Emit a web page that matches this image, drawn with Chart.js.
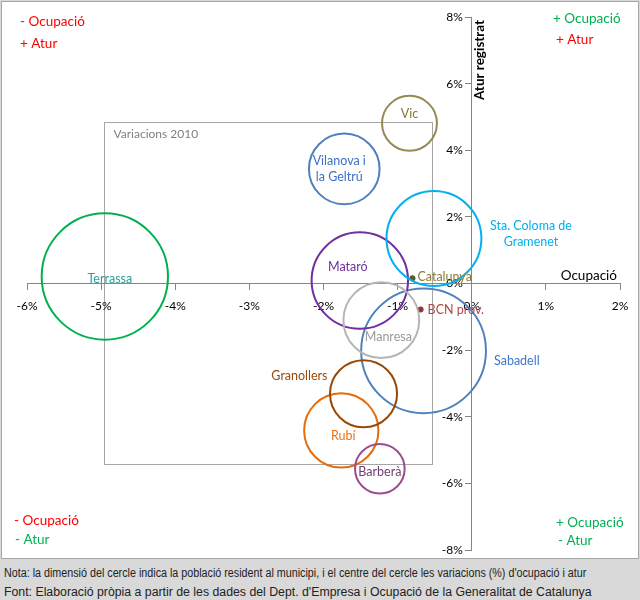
<!DOCTYPE html>
<html>
<head>
<meta charset="utf-8">
<script src="https://cdn.jsdelivr.net/npm/chart.js@4.4.1/dist/chart.umd.min.js"></script>
<style>
  body { margin: 0; background: #d9d9d9; width: 640px; height: 600px; overflow: hidden; }
  #box { position: absolute; left: 1px; top: 1px; width: 636px; height: 556px; background: #fff; border: 1px solid #a6a6a6; }
  #wrap { position: absolute; left: 0; top: 0; width: 640px; height: 558px; }
  .foot { position: absolute; left: 4px; color: #222; white-space: nowrap; transform-origin: 0 0; }
  #nota { top: 566px; font: 12px "Liberation Sans", Arial, sans-serif; transform: scaleX(0.895); }
  #font { top: 585px; font: 12.3px "Liberation Sans", Arial, sans-serif; }
</style>
</head>
<body>
<div id="box"></div>
<div id="wrap"><canvas id="chart"></canvas></div>
<div class="foot" id="nota">Nota: la dimensió del cercle indica la població resident al municipi, i el centre del cercle les variacions (%) d'ocupació i atur</div>
<div class="foot" id="font">Font: Elaboració pròpia a partir de les dades del Dept. d'Empresa i Ocupació de la Generalitat de Catalunya</div>
<script>
// municipis (variació % ocupació, variació % atur, població en milers)
const cities = ['Terrassa', 'Sabadell', 'Mataró', 'Sta. Coloma de Gramenet', 'Rubí', 'Manresa', 'Vilanova i la Geltrú', 'Granollers', 'Vic', 'Barberà'];
const ocupacio = [-4.95, -0.65, -1.51, -0.51, -1.76, -1.22, -1.72, -1.46, -0.84, -1.24];
const atur = [0.21, -2.02, 0.09, 1.35, -4.41, -1.10, 3.44, -3.31, 4.81, -5.56];
const poblacio = [212.7, 207.7, 123.9, 120.0, 73.6, 76.6, 66.6, 60.0, 40.2, 32.8];
const cityColors = ['#00b050', '#4f81bd', '#7030a0', '#00b0f0', '#e46c0a', '#b5b5b5', '#4f81bd', '#984807', '#948a54', '#9e4b8e'];
const textColors = ['#2aa198', '#3d78cc', '#7030a0', '#00b0f0', '#f07016', '#9a9a9a', '#3d6fc6', '#984807', '#857530', '#733b73'];

// referències
const refNames = ['Catalunya', 'BCN prov.'];
const refOcupacio = [-0.80, -0.69];
const refAtur = [0.16, -0.78];
const refColors = ['#4f6228', '#953735'];
const refText = ['#8a7d35', '#b0453f'];

// requadre "Variacions 2010"
const boxX = [-4.96, -0.53];
const boxY = [-5.41, 4.84];

const xTicks = [-6, -5, -4, -3, -2, -1, 0, 1, 2];
const yTicks = [-8, -6, -4, -2, 0, 2, 4, 6, 8];

const FONT = 'Lato, "Open Sans", sans-serif';

// posició de les etiquetes respecte al centre del cercle
const labelPlace = {
  'Terrassa': { dx: 5, dy: 2, align: 'center' },
  'Sabadell': { dx: 71, dy: 10, align: 'left' },
  'Mataró': { dx: -12, dy: -14, align: 'center' },
  'Sta. Coloma de Gramenet': { dx: 97, dy: -13, align: 'center', lines: ['Sta. Coloma de', 'Gramenet'] },
  'Rubí': { dx: 2, dy: 6, align: 'center' },
  'Manresa': { dx: 7, dy: 17, align: 'center' },
  'Vilanova i la Geltrú': { dx: -5, dy: -8, align: 'center', lines: ['Vilanova i', 'la Geltrú'] },
  'Granollers': { dx: -36, dy: -18, align: 'right' },
  'Vic': { dx: 0, dy: -9, align: 'center' },
  'Barberà': { dx: 0, dy: 3, align: 'center' }
};

const sizeK = 4.33;

const extras = {
  id: 'extras',
  beforeDraw(chart) {
    const { ctx, scales: { x, y } } = chart;
    ctx.save();
    ctx.strokeStyle = '#a6a6a6';
    ctx.lineWidth = 1;
    const l = Math.round(x.getPixelForValue(boxX[0])) + 0.5;
    const r = Math.round(x.getPixelForValue(boxX[1])) + 0.5;
    const t = Math.round(y.getPixelForValue(boxY[1])) + 0.5;
    const b = Math.round(y.getPixelForValue(boxY[0])) + 0.5;
    ctx.strokeRect(l, t, r - l, b - t);
    ctx.fillStyle = '#7f7f7f';
    ctx.font = '12px ' + FONT;
    ctx.textBaseline = 'middle';
    ctx.fillText('Variacions 2010', l + 9, t + 12);

    // quadrants
    ctx.font = '13.5px ' + FONT;
    const q = [
      ['- Ocupació', 20, 22, '#ff0000'], ['+ Atur', 20, 44, '#ff0000'],
      ['+ Ocupació', 553, 19, '#00b050'], ['+ Atur', 556, 40, '#ff0000'],
      ['- Ocupació', 14, 521, '#ff0000'], ['- Atur', 15, 540, '#00b050'],
      ['+ Ocupació', 556, 523, '#00b050'], ['- Atur', 558, 541, '#00b050']
    ];
    q.forEach(([txt, px, py, c]) => { ctx.fillStyle = c; ctx.fillText(txt, px, py); });

    // etiquetes de l'eix vertical
    ctx.fillStyle = '#000';
    ctx.font = '12px ' + FONT;
    ctx.textAlign = 'right';
    const x0 = x.getPixelForValue(0);
    yTicks.forEach(v => ctx.fillText(v + '%', x0 - 9, y.getPixelForValue(v)));

    // títols d'eixos
    ctx.font = 'bold 13.5px ' + FONT;
    ctx.translate(x0 + 8, y.getPixelForValue(8) + 43);
    ctx.rotate(-Math.PI / 2);
    ctx.textAlign = 'center';
    ctx.fillText('Atur registrat', 0, 0);
    ctx.restore();
    ctx.save();
    ctx.font = '13.5px ' + FONT;
    ctx.fillStyle = '#000';
    ctx.textAlign = 'right';
    ctx.textBaseline = 'middle';
    ctx.fillText('Ocupació', x.getPixelForValue(2) - 3, y.getPixelForValue(0) - 8);
    ctx.restore();
  },
  afterDatasetsDraw(chart) {
    const { ctx } = chart;
    ctx.save();
    ctx.font = '12.5px ' + FONT;
    ctx.textBaseline = 'middle';
    const pts = chart.getDatasetMeta(0).data;
    cities.forEach((name, i) => {
      const p = labelPlace[name];
      const el = pts[i];
      ctx.fillStyle = textColors[i];
      ctx.textAlign = p.align;
      let bx = el.x + p.dx;
      if (p.align === 'left') bx = el.x + el.options.radius + 8;
      const lines = p.lines || [name];
      lines.forEach((ln, k) => ctx.fillText(ln, bx, el.y + p.dy + k * 16));
    });
    const rp = chart.getDatasetMeta(1).data;
    refNames.forEach((name, i) => {
      ctx.fillStyle = refText[i];
      ctx.textAlign = 'left';
      ctx.fillText(name, rp[i].x + 5 + i * 2, rp[i].y - 1 + i);
    });
    ctx.restore();
  }
};

new Chart(document.getElementById('chart'), {
  type: 'bubble',
  data: {
    datasets: [
      {
        data: cities.map((c, i) => ({ x: ocupacio[i], y: atur[i], r: sizeK * Math.sqrt(poblacio[i]) })),
        borderColor: cityColors,
        backgroundColor: 'rgba(0,0,0,0)',
        borderWidth: 2
      },
      {
        data: refNames.map((c, i) => ({ x: refOcupacio[i], y: refAtur[i], r: 3 })),
        backgroundColor: refColors,
        borderColor: refColors,
        borderWidth: 0
      }
    ]
  },
  options: {
    responsive: true,
    maintainAspectRatio: false,
    animation: false,
    events: [],
    layout: { autoPadding: false, padding: { left: 27, right: 20, top: 17, bottom: 8 } },
    plugins: { legend: { display: false }, tooltip: { enabled: false } },
    scales: {
      x: {
        type: 'linear',
        min: -6, max: 2,
        position: { y: 0 },
        afterFit: (s) => { s.height = 0; },
        afterBuildTicks: (s) => { s.ticks = xTicks.map(v => ({ value: v })); },
        grid: { drawOnChartArea: false, color: '#868686', tickLength: 6 },
        border: { color: '#868686' },
        ticks: { color: '#000', font: { family: FONT, size: 12 }, padding: 9, callback: v => v + '%', maxRotation: 0 }
      },
      y: {
        type: 'linear',
        min: -8, max: 8,
        position: { x: 0 },
        afterFit: (s) => { s.width = 0; },
        afterBuildTicks: (s) => { s.ticks = yTicks.map(v => ({ value: v })); },
        grid: { drawOnChartArea: false, color: '#868686', tickLength: 6 },
        border: { color: '#868686' },
        ticks: { display: false }
      }
    }
  },
  plugins: [extras]
});
</script>
</body>
</html>
